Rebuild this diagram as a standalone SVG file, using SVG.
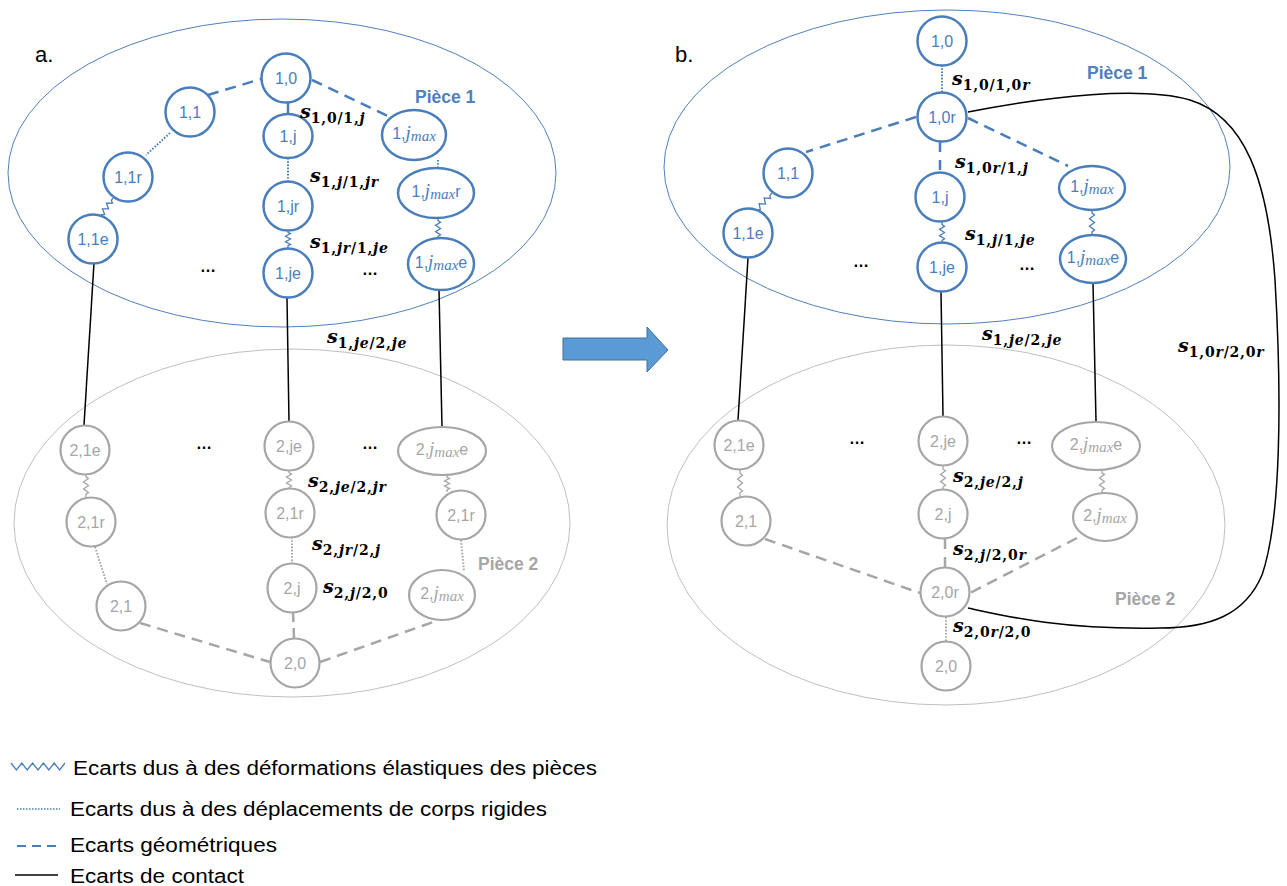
<svg xmlns="http://www.w3.org/2000/svg" xmlns:xlink="http://www.w3.org/1999/xlink" width="1287" height="886" viewBox="0 0 1287 886">
<style>
.p1{fill:none;stroke:#4f81bd;stroke-width:1}
.p2{fill:none;stroke:#bfbfbf;stroke-width:1}
.nb circle,.nb ellipse{fill:#fff;stroke:#4a7ebb;stroke-width:2.5}
.nb text{fill:#4a7ebb}
.ng circle,.ng ellipse{fill:#fff;stroke:#a6a6a6;stroke-width:2.2}
.ng text{fill:#a6a6a6}
.nt{font-family:"Liberation Sans",Arial,sans-serif;font-size:16px;text-anchor:middle}
.m{font-family:"Liberation Serif","Times New Roman",serif;font-style:italic}
.mj{font-size:19px}
.mm{font-size:15px}
.db{fill:none;stroke:#4a7ebb;stroke-width:2.5;stroke-dasharray:11 7}
.dg{fill:none;stroke:#a6a6a6;stroke-width:2.5;stroke-dasharray:11 7}
.ob{fill:none;stroke:#4a7ebb;stroke-width:2;stroke-dasharray:1.6 1.6}
.og{fill:none;stroke:#a6a6a6;stroke-width:2;stroke-dasharray:1.6 1.6}
.zb{fill:none;stroke:#4a7ebb;stroke-width:1.3}
.zg{fill:none;stroke:#a6a6a6;stroke-width:1.3}
.ct{fill:none;stroke:#000;stroke-width:1.5}
.sl{font-family:"DejaVu Serif","Liberation Serif",serif;font-weight:bold;fill:#000}
.sv{font-style:italic;font-size:19px}
.sb{font-size:14px;letter-spacing:0.8px}
.i{font-style:italic}
.dots{font-family:"Liberation Sans",Arial,sans-serif;font-size:16px;font-weight:bold;text-anchor:middle;fill:#000}
.pl{font-family:"Liberation Sans",Arial,sans-serif;font-size:17.5px;font-weight:bold}
.lg{font-family:"Liberation Sans",Arial,sans-serif;font-size:20px;fill:#000}
.ttl{font-family:"Liberation Sans",Arial,sans-serif;font-size:22px;fill:#000}
</style>
<defs>
<path id="zz" d="M0,0 v2.5 l2.5,1.5 l-5,3 l5,3 l-5,3 l5,3 l-2.5,1.5 v2.5" vector-effect="non-scaling-stroke"/>
</defs>
<rect width="1287" height="886" fill="#fff"/>

<text class="ttl" x="35" y="62">a.</text>
<text class="ttl" x="675" y="62">b.</text>

<g id="regions">
<ellipse class="p1" cx="282" cy="173" rx="274" ry="154"/>
<ellipse class="p2" cx="292" cy="523" rx="278" ry="174"/>
<ellipse class="p1" cx="947" cy="167" rx="283" ry="157"/>
<ellipse class="p2" cx="946" cy="525" rx="279" ry="180"/>
<text class="pl" x="415" y="103" fill="#4f81bd">Pièce 1</text>
<text class="pl" x="478" y="570" fill="#a6a6a6">Pièce 2</text>
<text class="pl" x="1087" y="79" fill="#4f81bd">Pièce 1</text>
<text class="pl" x="1115" y="605" fill="#a6a6a6">Pièce 2</text>
</g>

<g id="arrow">
<polygon points="563,338 647,338 647,327 668,350 647,372 647,360 563,360" fill="#5b9bd5" stroke="#41719c" stroke-width="1"/>
</g>

<g id="connectors">
<!-- left panel -->
<path class="db" d="M208,95 L261,79"/>
<path class="db" d="M312,80 L392,118"/>
<path class="ct" style="stroke:#4a7ebb;stroke-width:2.5" d="M288,103 L288,113"/>
<path class="ob" d="M170,133 L146,155"/>
<use href="#zz" class="zb" transform="translate(113,198) rotate(34.4) scale(1,1.15)"/>
<path class="ob" d="M288,158 L288,182"/>
<use href="#zz" class="zb" transform="translate(288,230) scale(1,0.9)"/>
<path class="ob" d="M438,160 L438,168"/>
<use href="#zz" class="zb" transform="translate(438,218) scale(1,1.05)"/>
<path class="ct" d="M94,263 L84,425"/>
<path class="ct" d="M287,298 L289,422"/>
<path class="ct" d="M439,290 L442,427"/>
<use href="#zz" class="zg" transform="translate(86,474) scale(1,1.15)"/>
<use href="#zz" class="zg" transform="translate(289,470) scale(1,1.0)"/>
<use href="#zz" class="zg" transform="translate(447,475) scale(1,0.85)"/>
<path class="og" d="M95,547 L107,584"/>
<path class="og" d="M292,537 L292,564"/>
<path class="og" d="M461,540 L464,571"/>
<path class="dg" d="M140,623 L270,662"/>
<path class="dg" d="M320,662 L436,621"/>
<path class="dg" d="M293,612 L294,638" style="stroke-dasharray:10 6"/>
<!-- right panel -->
<path class="ob" d="M942,65 L942,92"/>
<path class="db" d="M916,117 L806,152"/>
<path class="db" d="M968,118 L1068,166"/>
<path class="db" d="M940,142 L940,172" style="stroke-dasharray:10 8"/>
<use href="#zz" class="zb" transform="translate(772,193) rotate(41.8) scale(1,1.27)"/>
<use href="#zz" class="zb" transform="translate(942,222) scale(1,1.05)"/>
<use href="#zz" class="zb" transform="translate(1092,210) scale(1,1.25)"/>
<path class="ct" d="M748,258 L738,420"/>
<path class="ct" d="M941,292 L943,416"/>
<path class="ct" d="M1093,283 L1096,421"/>
<use href="#zz" class="zg" transform="translate(740,470) scale(1,1.3)"/>
<use href="#zz" class="zg" transform="translate(943,466) scale(1,1.2)"/>
<use href="#zz" class="zg" transform="translate(1102,470) scale(1,1.15)"/>
<path class="dg" d="M765,539 L920,593"/>
<path class="dg" d="M1077,538 L970,593"/>
<path class="dg" d="M945,539 L945,568" style="stroke-dasharray:10 8"/>
<path class="og" d="M946,617 L946,642"/>
<path class="ct" d="M968,112 C1050,96 1140,86 1190,100 C1245,117 1268,180 1275,280 C1282,400 1281,520 1262,575 C1245,615 1210,628 1160,628 C1060,630 1000,615 968,608"/>
</g>

<!-- left panel nodes -->
<g id="a_1_0" class="nb"><circle cx="286" cy="78" r="24.5"/><text class="nt" x="286" y="84">1,0</text></g>
<g id="a_1_1" class="nb"><circle cx="190" cy="112" r="24.5"/><text class="nt" x="190" y="118">1,1</text></g>
<g id="a_1_1r" class="nb"><circle cx="128" cy="177" r="24.5"/><text class="nt" x="128" y="183">1,1r</text></g>
<g id="a_1_1e" class="nb"><circle cx="93" cy="239" r="24.5"/><text class="nt" x="93" y="245">1,1e</text></g>
<g id="a_1_j" class="nb"><ellipse cx="288" cy="136" rx="24.5" ry="22"/><text class="nt" x="288" y="142">1,j</text></g>
<g id="a_1_jr" class="nb"><circle cx="288" cy="206" r="24.5"/><text class="nt" x="288" y="212">1,jr</text></g>
<g id="a_1_je" class="nb"><circle cx="288" cy="273" r="24.5"/><text class="nt" x="288" y="279">1,je</text></g>
<g id="a_1_jmax" class="nb"><ellipse cx="414" cy="135" rx="32" ry="25"/><text class="nt" x="414" y="139">1,<tspan class="m mj">j</tspan><tspan class="m mm" dy="2">max</tspan></text></g>
<g id="a_1_jmaxr" class="nb"><ellipse cx="436" cy="193" rx="38" ry="25"/><text class="nt" x="436" y="197">1,<tspan class="m mj">j</tspan><tspan class="m mm" dy="2">max</tspan><tspan dy="-2">r</tspan></text></g>
<g id="a_1_jmaxe" class="nb"><ellipse cx="441" cy="264" rx="33" ry="26"/><text class="nt" x="441" y="268">1,<tspan class="m mj">j</tspan><tspan class="m mm" dy="2">max</tspan><tspan dy="-2">e</tspan></text></g>

<g id="a_2_1e" class="ng"><circle cx="85" cy="450" r="24.5"/><text class="nt" x="85" y="456">2,1e</text></g>
<g id="a_2_je" class="ng"><circle cx="289" cy="446" r="24.5"/><text class="nt" x="289" y="452">2,je</text></g>
<g id="a_2_jmaxe" class="ng"><ellipse cx="442" cy="451" rx="44" ry="24"/><text class="nt" x="442" y="455">2,<tspan class="m mj">j</tspan><tspan class="m mm" dy="2">max</tspan><tspan dy="-2">e</tspan></text></g>
<g id="a_2_1r_l" class="ng"><circle cx="91" cy="522" r="24.5"/><text class="nt" x="91" y="528">2,1r</text></g>
<g id="a_2_1r_c" class="ng"><circle cx="290" cy="513" r="24.5"/><text class="nt" x="290" y="519">2,1r</text></g>
<g id="a_2_1r_r" class="ng"><circle cx="461" cy="515" r="24.5"/><text class="nt" x="461" y="521">2,1r</text></g>
<g id="a_2_1" class="ng"><circle cx="121" cy="606" r="24.5"/><text class="nt" x="121" y="612">2,1</text></g>
<g id="a_2_j" class="ng"><circle cx="292" cy="588" r="24.5"/><text class="nt" x="292" y="594">2,j</text></g>
<g id="a_2_jmax" class="ng"><ellipse cx="442" cy="595" rx="33" ry="25"/><text class="nt" x="442" y="599">2,<tspan class="m mj">j</tspan><tspan class="m mm" dy="2">max</tspan></text></g>
<g id="a_2_0" class="ng"><circle cx="295" cy="663" r="24.5"/><text class="nt" x="295" y="669">2,0</text></g>

<!-- right panel nodes -->
<g id="b_1_0" class="nb"><circle cx="942" cy="41" r="24.5"/><text class="nt" x="942" y="47">1,0</text></g>
<g id="b_1_0r" class="nb"><circle cx="942" cy="117" r="24.5"/><text class="nt" x="942" y="123">1,0r</text></g>
<g id="b_1_1" class="nb"><circle cx="788" cy="173" r="24.5"/><text class="nt" x="788" y="179">1,1</text></g>
<g id="b_1_1e" class="nb"><circle cx="748" cy="233" r="24.5"/><text class="nt" x="748" y="239">1,1e</text></g>
<g id="b_1_j" class="nb"><circle cx="940" cy="197" r="24.5"/><text class="nt" x="940" y="203">1,j</text></g>
<g id="b_1_je" class="nb"><circle cx="942" cy="267" r="24.5"/><text class="nt" x="942" y="273">1,je</text></g>
<g id="b_1_jmax" class="nb"><ellipse cx="1092" cy="188" rx="33" ry="22"/><text class="nt" x="1092" y="192">1,<tspan class="m mj">j</tspan><tspan class="m mm" dy="2">max</tspan></text></g>
<g id="b_1_jmaxe" class="nb"><ellipse cx="1093" cy="259" rx="33" ry="24"/><text class="nt" x="1093" y="263">1,<tspan class="m mj">j</tspan><tspan class="m mm" dy="2">max</tspan><tspan dy="-2">e</tspan></text></g>

<g id="b_2_1e" class="ng"><circle cx="739" cy="445" r="24.5"/><text class="nt" x="739" y="451">2,1e</text></g>
<g id="b_2_je" class="ng"><circle cx="943" cy="441" r="24.5"/><text class="nt" x="943" y="447">2,je</text></g>
<g id="b_2_jmaxe" class="ng"><ellipse cx="1096" cy="446" rx="44" ry="24"/><text class="nt" x="1096" y="450">2,<tspan class="m mj">j</tspan><tspan class="m mm" dy="2">max</tspan><tspan dy="-2">e</tspan></text></g>
<g id="b_2_1" class="ng"><circle cx="746" cy="521" r="24.5"/><text class="nt" x="746" y="527">2,1</text></g>
<g id="b_2_j" class="ng"><circle cx="943" cy="514" r="24.5"/><text class="nt" x="943" y="520">2,j</text></g>
<g id="b_2_jmax" class="ng"><ellipse cx="1105" cy="517" rx="32" ry="24"/><text class="nt" x="1105" y="521">2,<tspan class="m mj">j</tspan><tspan class="m mm" dy="2">max</tspan></text></g>
<g id="b_2_0r" class="ng"><circle cx="945" cy="592" r="24.5"/><text class="nt" x="945" y="598">2,0r</text></g>
<g id="b_2_0" class="ng"><circle cx="946" cy="666" r="24.5"/><text class="nt" x="946" y="672">2,0</text></g>

<g id="ellipsis">
<text class="dots" x="208" y="272">…</text>
<text class="dots" x="370" y="275">…</text>
<text class="dots" x="204" y="449">…</text>
<text class="dots" x="370" y="449">…</text>
<text class="dots" x="861" y="267">…</text>
<text class="dots" x="1027" y="270">…</text>
<text class="dots" x="857" y="444">…</text>
<text class="dots" x="1024" y="444">…</text>
</g>

<g id="labels">
<text class="sl" x="300" y="118"><tspan class="sv">s</tspan><tspan class="sb" dy="4.5">1,0/1,<tspan class="i">j</tspan></tspan></text>
<text class="sl" x="310" y="182"><tspan class="sv">s</tspan><tspan class="sb" dy="4.5">1,<tspan class="i">j</tspan>/1,<tspan class="i">jr</tspan></tspan></text>
<text class="sl" x="310" y="248"><tspan class="sv">s</tspan><tspan class="sb" dy="4.5">1,<tspan class="i">jr</tspan>/1,<tspan class="i">je</tspan></tspan></text>
<text class="sl" x="327" y="343"><tspan class="sv">s</tspan><tspan class="sb" dy="4.5">1,<tspan class="i">je</tspan>/2,<tspan class="i">je</tspan></tspan></text>
<text class="sl" x="308" y="487"><tspan class="sv">s</tspan><tspan class="sb" dy="4.5">2,<tspan class="i">je</tspan>/2,<tspan class="i">jr</tspan></tspan></text>
<text class="sl" x="312" y="550"><tspan class="sv">s</tspan><tspan class="sb" dy="4.5">2,<tspan class="i">jr</tspan>/2,<tspan class="i">j</tspan></tspan></text>
<text class="sl" x="323" y="593"><tspan class="sv">s</tspan><tspan class="sb" dy="4.5">2,<tspan class="i">j</tspan>/2,0</tspan></text>
<text class="sl" x="952" y="85"><tspan class="sv">s</tspan><tspan class="sb" dy="4.5">1,0/1,0<tspan class="i">r</tspan></tspan></text>
<text class="sl" x="955" y="168"><tspan class="sv">s</tspan><tspan class="sb" dy="4.5">1,0<tspan class="i">r</tspan>/1,<tspan class="i">j</tspan></tspan></text>
<text class="sl" x="965" y="240"><tspan class="sv">s</tspan><tspan class="sb" dy="4.5">1,<tspan class="i">j</tspan>/1,<tspan class="i">je</tspan></tspan></text>
<text class="sl" x="982" y="340"><tspan class="sv">s</tspan><tspan class="sb" dy="4.5">1,<tspan class="i">je</tspan>/2,<tspan class="i">je</tspan></tspan></text>
<text class="sl" x="1178" y="352"><tspan class="sv">s</tspan><tspan class="sb" dy="4.5">1,0<tspan class="i">r</tspan>/2,0<tspan class="i">r</tspan></tspan></text>
<text class="sl" x="953" y="482"><tspan class="sv">s</tspan><tspan class="sb" dy="4.5">2,<tspan class="i">je</tspan>/2,<tspan class="i">j</tspan></tspan></text>
<text class="sl" x="953" y="555"><tspan class="sv">s</tspan><tspan class="sb" dy="4.5">2,<tspan class="i">j</tspan>/2,0<tspan class="i">r</tspan></tspan></text>
<text class="sl" x="953" y="632"><tspan class="sv">s</tspan><tspan class="sb" dy="4.5">2,0<tspan class="i">r</tspan>/2,0</tspan></text>
</g>

<g id="legend">
<path d="M11,763 l5.4,7 l5.4,-7 l5.4,7 l5.4,-7 l5.4,7 l5.4,-7 l5.4,7 l5.4,-7 l5.4,7 l5.4,-7" fill="none" stroke="#4a7ebb" stroke-width="1.3"/>
<text class="lg" x="73" y="775" textLength="524" lengthAdjust="spacingAndGlyphs">Ecarts dus à des déformations élastiques des pièces</text>
<path d="M17,809 L60,809" fill="none" stroke="#4a7ebb" stroke-width="1.5" stroke-dasharray="1.5 1.5"/>
<text class="lg" x="70" y="816" textLength="477" lengthAdjust="spacingAndGlyphs">Ecarts dus à des déplacements de corps rigides</text>
<path d="M17,846 L57,846" fill="none" stroke="#4a7ebb" stroke-width="2" stroke-dasharray="9 6"/>
<text class="lg" x="70" y="852" textLength="207" lengthAdjust="spacingAndGlyphs">Ecarts géométriques</text>
<path d="M15,875 L58,875" fill="none" stroke="#000" stroke-width="1.5"/>
<text class="lg" x="70" y="883" textLength="174" lengthAdjust="spacingAndGlyphs">Ecarts de contact</text>
</g>
</svg>
